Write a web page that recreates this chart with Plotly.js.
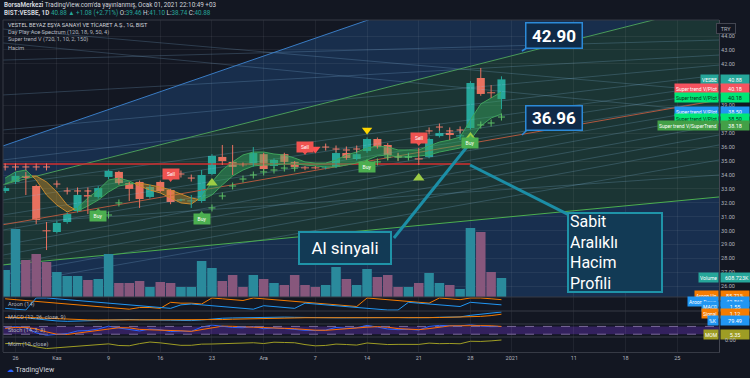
<!DOCTYPE html>
<html><head><meta charset="utf-8">
<script src="https://cdn.plot.ly/plotly-3.0.1.min.js"></script>
<style>html,body{margin:0;padding:0;background:#131722;}#chart{width:750px;height:378px;}</style>
</head><body><div id="chart"></div>
<script>
// ---------- data (trading-day index: 0 = 26 Oct 2020) ----------
const dayIndex = [-1,0,1,2,3,4,5,6,7,8,9,10,11,12,13,14,15,16,17,18,19,20,21,22,23,24,25,26,27,28,29,30,31,32,33,34,35,36,37,38,39,40,41,42,43,44,45,46,47];
const open  = [32.85,33.50,33.93,33.21,30.02,29.90,30.62,31.41,32.55,32.42, 33.86,34.22,33.42,33.50,32.42,33.50,32.92,32.17,32.10,32.13, 34.07,35.30,34.94,34.76,34.72,35.50,34.65,35.50,34.94,34.55, 34.55,34.48,34.58,35.58,35.15,35.73,36.59,36.16,35.32,35.28, 35.20,35.30,36.80,37.02,36.78,37.38,40.98,39.92,39.46];
const high  = [33.20,34.20,34.22,33.30,30.62,30.70,31.30,32.92,32.92,33.20, 34.40,34.30,33.50,33.60,33.30,33.60,33.00,32.30,32.56,34.36, 35.50,36.16,36.16,34.90,36.01,35.60,35.20,35.60,35.00,34.65, 34.65,34.62,35.70,35.70,35.94,36.70,36.70,36.30,35.60,35.60, 35.94,36.70,37.24,37.24,37.24,40.75,41.70,40.47,41.10];
const low   = [32.70,33.35,32.56,30.47,28.60,29.80,30.50,31.30,31.19,32.30, 33.70,33.30,32.13,31.63,32.30,32.75,31.90,32.10,31.63,32.00, 34.00,34.72,34.00,34.60,34.60,34.30,34.50,34.80,34.40,34.35, 34.40,34.40,34.50,35.10,35.05,35.60,35.90,35.08,35.00,35.10, 34.72,35.20,36.70,36.52,36.52,37.30,39.70,39.54,38.74];
const close = [33.06,33.93,33.79,30.76,29.95,30.55,31.19,32.56,32.45,33.06, 34.29,33.42,33.00,32.27,33.14,32.85,32.06,32.22,32.15,34.00, 35.37,35.00,34.58,34.70,35.58,34.43,35.08,34.94,34.58,34.48, 34.48,34.55,35.58,35.22,35.50,36.59,36.01,35.44,35.28,35.32, 35.12,36.59,37.02,36.88,36.83,40.62,39.83,39.88,40.88];
const volumeK = [864,2176,1184,1376,1120,800,672,672,544,576, 1376,448,448,512,320,480,448,320,320,1152, 928,512,704,320,704,576,448,384,704,384, 320,384,960,576,384,896,640,704,320,320, 448,768,448,384,256,2208,2080,800,608.723];
const ribbonFast = [33.78,34.22,34.36,33.64,32.56,31.84,31.34,31.63,32.35,32.92, 33.64,33.78,33.57,33.21,32.92,32.71,32.35,31.99,31.91,32.42, 33.50,34.36,34.94,35.44,35.65,35.65,35.51,35.44,35.22,34.94, 34.86,34.86,35.08,35.44,35.65,35.94,36.09,36.01,35.80,35.80, 35.80,36.09,36.37,36.52,36.73,37.96,39.11,39.54,39.97];
const ribbonSlow = [33.35,33.64,33.93,33.93,33.50,32.78,31.84,31.41,31.77,32.20, 32.78,33.21,33.35,33.42,33.28,33.14,32.92,32.63,32.35,32.20, 32.56,33.28,33.93,34.36,34.65,34.72,34.72,34.79,34.79,34.72, 34.65,34.58,34.58,34.72,34.86,35.08,35.37,35.44,35.29,35.29, 35.37,35.44,35.65,35.80,35.94,36.52,37.53,38.10,38.39];
const aroonUp   = [93,86,79,71,64,57,50,43,36,29, 21,14,7,21,21,14,64,57,57,50, 100,93,86,79,100,93,86,79,71,64, 57,50,43,36,29,100,93,86,79,71, 64,57,100,93,86,100,100,93,86];
const aroonDown = [14,7,0,100,100,93,86,79,71,64, 57,50,43,36,29,21,14,43,50,43, 36,29,21,14,7,36,29,21,14,57, 50,43,36,29,21,14,7,0,0,64, 57,50,43,36,29,64,57,50,43];
const macd   = [0.45,0.48,0.46,0.20,-0.05,-0.20,-0.28,-0.22,-0.18,-0.10, 0.04,0.08,0.08,0.02,0.03,0.01,-0.06,-0.10,-0.13,-0.01, 0.20,0.33,0.39,0.44,0.54,0.52,0.55,0.55,0.51,0.46, 0.41,0.37,0.42,0.42,0.44,0.54,0.56,0.52,0.47,0.43, 0.38,0.45,0.53,0.57,0.59,0.90,1.08,1.32,1.55];
const signal = [0.50,0.50,0.49,0.44,0.34,0.23,0.13,0.06,0.01,-0.01, 0.00,0.02,0.03,0.03,0.03,0.03,0.01,-0.01,-0.04,-0.04, 0.01,0.07,0.14,0.20,0.27,0.32,0.37,0.40,0.42,0.43, 0.43,0.42,0.42,0.42,0.42,0.45,0.47,0.48,0.48,0.47, 0.45,0.45,0.47,0.49,0.51,0.59,0.69,0.85,1.12];
const stochK = [70,78,72,30,12,18,25,45,48,60, 82,68,58,45,60,55,40,44,42,75, 90,82,72,70,80,62,68,64,55,50, 48,52,72,65,70,88,75,60,55,58, 52,80,88,84,82,95,82,78,79.49];
const stochD = [65,72,73,60,38,20,18,29,39,51, 63,70,69,57,54,53,52,46,42,54, 69,82,81,75,74,71,70,65,62,56, 51,50,57,63,69,74,78,74,63,58, 55,63,73,84,85,87,86,85,80];
const momentum = [1.5,2.0,1.2,-2.0,-3.8,-3.0,-2.2,-1.0,-0.8,0.2, 1.23,-0.51,-0.79,1.51,3.19,2.3,0.87,-0.34,-0.3,0.94, 1.08,1.58,1.58,2.43,2.44,1.58,3.02,2.72,2.43,0.48, -0.89,-0.45,1.0,0.52,-0.08,2.16,0.93,0.5,0.7,0.84, 0.64,2.04,1.44,1.66,1.33,4.03,3.82,4.46,5.35];

// super trend dots and signals
const redDotX = [-1,0,1,2,3,4,5,6,7,16,17,30,31,32,33,40,41,42,43];
const redDotY = [34.58,34.58,34.58,34.58,34.58,33.35,32.85,32.85,32.85,34.07,33.78,36.01,35.87,35.80,35.87,37.17,37.45,37.17,37.24];
const greenDotX = [9,10,19,20,21,22,23,24,25,26,27,35,36,37,38,45,46,47];
const greenDotY = [31.12,31.99,31.63,32.49,33.21,33.71,34.00,34.22,34.36,34.50,34.50,34.94,35.29,35.29,35.29,37.60,37.74,38.17];
const upTriX = [19,39,44], upTriY = [33.42,33.78,36.73];
const yellowTriX = [34], yellowTriY = [37.24];
const redTriX = [29], redTriY = [35.87];
const sellX = [15,28,39], sellY = [34.07,36.01,36.66];
const buyX = [8,18,34,44], buyY = [31.05,30.83,34.58,36.30];

// drawings
const edgeX = [-1.21, 68.04];
const channelUpper = [33.31, 46.35];
const channelLower = [27.53, 32.42];
const channelMid = [30.42, 39.39];
const outerLine = [36.09, 53.86];
const redLevelX = [-1.21, 44], redLevel = 34.79;
const fanLeft  = [44.5,43.5,42.27,39.76,37.24,35.08,33.28,32.20,31.12,30.04,28.96,28.24,27.53,26.81,26.09,30.5];
const fanRight = [40.0,38.5,43.71,42.63,41.91,41.19,40.47,39.97,39.40,38.82,38.32,37.60,36.88,36.16,35.08,34.0];
const alLineX = [36.6, 43.96], alLineY = [29.47, 36.30];
const sabitLineX = [43.96, 54.1], sabitLineY = [34.72, 30.91];
const tipHighX = [49.76, 48.98], tipHighY = [43.28, 42.92];
const tipMidX = [49.76, 48.98], tipMidY = [37.45, 36.88];

const tickPos = [0,4,9,14,19,24,29,34,39,44,48,54,59,64];
const tickLab = ['26','Kas','9','16','23','Ara','7','14','21','28','2021','11','18','25'];
const priceTicks = [26,27,28,29,30,31,32,33,34,35,36,37,39,42,43,44];

// ---------- build ----------
const GREEN='#26a69a', RED='#e8715f';
const N = dayIndex.length;
const traces = [];

// volume
traces.push({type:'bar', x:dayIndex, y:volumeK, yaxis:'y2', width:0.92,
  marker:{color:dayIndex.map((_,k)=> close[k]>=open[k] ? '#2a8a9c' : '#87577c'), line:{width:0}}, hoverinfo:'skip'});

// fan lines
fanLeft.forEach((v,k)=>{
  traces.push({type:'scatter', mode:'lines', x:edgeX, y:[v, fanRight[k]], line:{color:'rgba(140,195,235,0.22)', width:1}, hoverinfo:'skip'});
});
// channel lines
traces.push({type:'scatter',mode:'lines',x:edgeX,y:outerLine,line:{color:'#3a7cc4',width:1},hoverinfo:'skip'});
traces.push({type:'scatter',mode:'lines',x:edgeX,y:channelUpper,line:{color:'#4a9c5b',width:1},hoverinfo:'skip'});
traces.push({type:'scatter',mode:'lines',x:edgeX,y:channelLower,line:{color:'#4caf50',width:1},hoverinfo:'skip'});
traces.push({type:'scatter',mode:'lines',x:edgeX,y:channelMid,line:{color:'#b0583f',width:1},hoverinfo:'skip'});
traces.push({type:'scatter',mode:'lines',x:redLevelX,y:[redLevel,redLevel],line:{color:'#d32f2f',width:1.5},hoverinfo:'skip'});

// ribbon
const gP={x:[],y:[]}, oP={x:[],y:[]}, gL={x:[],y:[]}, oL={x:[],y:[]};
function quad(P,L,xa,xb,aa,ab,ba,bb){
  P.x.push(xa,xb,xb,xa,null); P.y.push(aa,ab,bb,ba,null);
  L.x.push(xa,xb,null,xa,xb,null); L.y.push(aa,ab,null,ba,bb,null);
}
for(let k=0;k<N-1;k++){
  const x0=dayIndex[k], x1=dayIndex[k+1];
  const a0=ribbonFast[k], a1=ribbonFast[k+1], b0=ribbonSlow[k], b1=ribbonSlow[k+1];
  const d0=a0-b0, d1=a1-b1;
  if(d0*d1>=0){ const g=(d0+d1)>=0; quad(g?gP:oP,g?gL:oL,x0,x1,a0,a1,b0,b1); }
  else { const t=d0/(d0-d1), xc=x0+t*(x1-x0), yc=a0+t*(a1-a0);
    quad(d0>0?gP:oP,d0>0?gL:oL,x0,xc,a0,yc,b0,yc);
    quad(d1>0?gP:oP,d1>0?gL:oL,xc,x1,yc,a1,yc,b1); }
}
traces.push({type:'scatter',mode:'none',x:gP.x,y:gP.y,fill:'toself',fillcolor:'rgba(55,170,95,0.45)',hoverinfo:'skip'});
traces.push({type:'scatter',mode:'none',x:oP.x,y:oP.y,fill:'toself',fillcolor:'rgba(205,140,40,0.42)',hoverinfo:'skip'});
traces.push({type:'scatter',mode:'lines',x:gL.x,y:gL.y,line:{color:'#3fa35a',width:1},hoverinfo:'skip'});
traces.push({type:'scatter',mode:'lines',x:oL.x,y:oL.y,line:{color:'#c98a2e',width:1},hoverinfo:'skip'});

// candles
function wicks(up){
  const xs=[], ys=[];
  for(let k=0;k<N;k++){ if((close[k]>=open[k])===up){ xs.push(dayIndex[k],dayIndex[k],null); ys.push(low[k],high[k],null);} }
  return {type:'scatter',mode:'lines',x:xs,y:ys,line:{color:up?GREEN:RED,width:1},hoverinfo:'skip'};
}
function bodies(up){
  const xs=[], b=[], h=[];
  for(let k=0;k<N;k++){ if((close[k]>=open[k])===up){ xs.push(dayIndex[k]); b.push(Math.min(open[k],close[k])); h.push(Math.max(Math.abs(close[k]-open[k]),0.07)); } }
  return {type:'bar',x:xs,base:b,y:h,width:0.78,marker:{color:up?GREEN:RED,line:{width:0}},hoverinfo:'skip'};
}
traces.push(wicks(true), wicks(false), bodies(true), bodies(false));

// dots & triangles
traces.push({type:'scatter',mode:'markers',x:redDotX,y:redDotY,marker:{symbol:'cross-thin',size:5,line:{color:'#ef7b6c',width:1}},hoverinfo:'skip'});
traces.push({type:'scatter',mode:'markers',x:greenDotX,y:greenDotY,marker:{symbol:'cross-thin',size:5,line:{color:'#5cbf66',width:1}},hoverinfo:'skip'});
traces.push({type:'scatter',mode:'markers',x:upTriX,y:upTriY,marker:{symbol:'triangle-up',size:10,color:'#9ccc45'},hoverinfo:'skip'});
traces.push({type:'scatter',mode:'markers',x:yellowTriX,y:yellowTriY,marker:{symbol:'triangle-down',size:9,color:'#ffd600'},hoverinfo:'skip'});
traces.push({type:'scatter',mode:'markers',x:redTriX,y:redTriY,marker:{symbol:'triangle-down',size:9,color:'#ff5252'},hoverinfo:'skip'});
traces.push({type:'scatter',mode:'markers',x:sellX,y:sellY.map(v=>v-0.40),marker:{symbol:'triangle-down',size:5,color:'#ef5350'},hoverinfo:'skip'});
traces.push({type:'scatter',mode:'markers',x:buyX,y:buyY.map(v=>v+0.40),marker:{symbol:'triangle-up',size:5,color:'#4caf50'},hoverinfo:'skip'});
// earnings marker
traces.push({type:'scatter',mode:'markers+text',x:[1],y:[25.65],text:['E'],textposition:'middle center',
  textfont:{size:6,color:'#ffffff',family:'Roboto'},marker:{size:9,color:'#1e222d',line:{color:'#50535e',width:1}},hoverinfo:'skip'});
// callout lines
traces.push({type:'scatter',mode:'lines',x:alLineX,y:alLineY,line:{color:'#1c8ea6',width:3},hoverinfo:'skip'});
traces.push({type:'scatter',mode:'lines',x:sabitLineX,y:sabitLineY,line:{color:'#1c8ea6',width:3},hoverinfo:'skip'});
traces.push({type:'scatter',mode:'lines',x:tipHighX,y:tipHighY,line:{color:'#2c8ad8',width:1.5},hoverinfo:'skip'});
traces.push({type:'scatter',mode:'lines',x:tipMidX,y:tipMidY,line:{color:'#2c8ad8',width:1.5},hoverinfo:'skip'});

// sub panes
traces.push({type:'scatter',mode:'lines',x:dayIndex,y:aroonUp,yaxis:'y3',line:{color:'#f57c00',width:1},hoverinfo:'skip'});
traces.push({type:'scatter',mode:'lines',x:dayIndex,y:aroonDown,yaxis:'y3',line:{color:'#2196f3',width:1},hoverinfo:'skip'});
traces.push({type:'scatter',mode:'lines',x:dayIndex,y:macd,yaxis:'y4',line:{color:'#2196f3',width:1},hoverinfo:'skip'});
traces.push({type:'scatter',mode:'lines',x:dayIndex,y:signal,yaxis:'y4',line:{color:'#f57c00',width:1},hoverinfo:'skip'});
traces.push({type:'scatter',mode:'lines',x:dayIndex,y:stochK,yaxis:'y5',line:{color:'#2962ff',width:1},hoverinfo:'skip'});
traces.push({type:'scatter',mode:'lines',x:dayIndex,y:stochD,yaxis:'y5',line:{color:'#ff6d00',width:1},hoverinfo:'skip'});
traces.push({type:'scatter',mode:'lines',x:dayIndex,y:momentum,yaxis:'y6',line:{color:'#9e9d24',width:1},hoverinfo:'skip'});

// ---------- background regions ----------
const P = (xs, ys) => 'M' + xs.map((x,k)=> x+','+ys[k]).join(' L') + ' Z';
const xL=edgeX[0], xR=edgeX[1];
const shapes = [
  {type:'path', xref:'x', yref:'y', layer:'below', line:{width:0}, fillcolor:'#182e4c',
   path:P([xL,xR,xR,xL],[outerLine[0],outerLine[1],channelUpper[1],channelUpper[0]])},
  {type:'path', xref:'x', yref:'y', layer:'below', line:{width:0}, fillcolor:'#1b3534',
   path:P([xL,xR,xR,xL],[channelUpper[0],channelUpper[1],channelLower[1],channelLower[0]])},
  {type:'path', xref:'x', yref:'y', layer:'below', line:{width:0}, fillcolor:'#182f4f',
   path:P([xL,xR,xR,xL],[channelLower[0],channelLower[1],20,20])},
  {type:'rect', xref:'x', yref:'y5', layer:'below', x0:xL, x1:xR, y0:20, y1:80, fillcolor:'#33215e', line:{width:0}},
  {type:'line', xref:'x', yref:'y5', x0:xL, x1:xR, y0:20, y1:20, line:{color:'#7a6a9a',width:1,dash:'dash'}},
  {type:'line', xref:'x', yref:'y5', x0:xL, x1:xR, y0:80, y1:80, line:{color:'#7a6a9a',width:1,dash:'dash'}}
];
[0.16566,0.12349,0.08434,0.04518,1].forEach(v=>shapes.push({type:'line',xref:'paper',yref:'paper',x0:0,x1:1,y0:v,y1:v,line:{color:'#363a45',width:1}}));
shapes.push({type:'line',xref:'paper',yref:'paper',x0:0,x1:0,y0:0,y1:1,line:{color:'#363a45',width:1}});

// ---------- annotations ----------
const F='Roboto, Liberation Sans, sans-serif';
const ann = [];
const txt=(x,y,t,size,color,xa)=>ann.push({xref:'paper',yref:'paper',x:x,y:y,text:t,showarrow:false,xanchor:xa||'left',yanchor:'middle',font:{family:F,size:size,color:color}});
txt(-0.0014,1.045,"<b>BorsaMerkezi</b> TradingView.com'da yayınlanmış, Ocak 01, 2021 22:10:49 +03",6.3,'#d1d4dc');
const g=s=>'<span style="color:#26a69a">'+s+'</span>';
txt(-0.0014,1.021,'<b>BIST:VESBE, 1D</b> '+g('40.88 ▲ +1.08 (+2.71%)')+' O:'+g('39.46')+' H:'+g('41.10')+' L:'+g('38.74')+' C:'+g('40.88'),6.3,'#d1d4dc');
txt(0.0042,0.985,'VESTEL BEYAZ EŞYA SANAYİ VE TİCARET A.Ş., 1G, BIST',5.6,'#d1d4dc');
txt(0.0042,0.962,'Day Play Ace Spectrum (120, 18, 9, 50, 4)',5.6,'#b2b5be');
txt(0.0042,0.940,'Super trend V (720, 1, 10, 2, 150)',5.6,'#b2b5be');
txt(0.0042,0.917,'Hacim',5.6,'#b2b5be');
txt(0.0042,0.143,'Aroon (14)',5.6,'#b2b5be');
txt(0.0042,0.104,'MACD (12, 26, close, 9)',5.6,'#b2b5be');
txt(0.0042,0.0648,'Stoch (14, 3, 3)',5.6,'#b2b5be');
txt(0.0042,0.024,'Mom (10, close)',5.6,'#b2b5be');
txt(0.0028,-0.054,'<span style="color:#2962ff">☁</span> TradingView',7,'#d1d4dc');
ann.push({xref:'paper',yref:'paper',x:1.0237,y:0.9895,text:'TRY',showarrow:false,font:{family:F,size:5.5,color:'#b2b5be'},bgcolor:'#131722',bordercolor:'#434651',borderwidth:1,borderpad:1,width:16,height:7});

function axisLabel(yref,y,name,val,bg,fg,vw){
  ann.push({xref:'paper',yref:yref,x:1,y:y,xanchor:'right',xshift:-0.5,text:name,showarrow:false,font:{family:F,size:5,color:fg},bgcolor:bg,borderpad:1,height:7});
  ann.push({xref:'paper',yref:yref,x:1,y:y,xanchor:'left',xshift:0.5,text:val,showarrow:false,font:{family:F,size:5.5,color:fg},bgcolor:bg,borderpad:1,height:7,width:vw||26});
}
axisLabel('y',40.88,'VESBE','40.88','#26a69a','#ffffff');
axisLabel('y',40.19,'Super trend V/Plot','40.18','#f7525f','#ffffff');
axisLabel('y',39.61,'Super trend V/Plot','40.18','#00e676','#0b2a14');
axisLabel('y',38.60,'Super trend V/Plot','38.50','#2196f3','#ffffff');
axisLabel('y',38.10,'Super trend V/Plot','38.50','#00e676','#0b2a14');
axisLabel('y',37.53,'Super trend V/SuperTrend','38.18','#43a047','#ffffff');
axisLabel('y2',608.723,'Volume','608.723K','#26a69a','#ffffff',30);
axisLabel('paper',0.1536,'Aroon Up','85.71%','#f57c00','#ffffff');
axisLabel('paper',0.1355,'Aroon Down','42.86%','#2196f3','#ffffff');
axisLabel('paper',0.119,'MACD','1.55','#2196f3','#ffffff');
axisLabel('paper',0.0994,'Signal','1.12','#f57c00','#ffffff');
axisLabel('paper',0.0798,'%K','79.49','#2196f3','#ffffff');
axisLabel('paper',0.0361,'MOM','5.35','#9e9d24','#ffffff');
ann.push({xref:'paper',yref:'paper',x:1,y:0.0196,xanchor:'left',xshift:4,text:'0.00',showarrow:false,font:{family:F,size:5.5,color:'#b2b5be'}});

// signal labels
sellX.forEach((x,k)=>ann.push({xref:'x',yref:'y',x:x,y:sellY[k],text:'Sell',showarrow:false,font:{family:F,size:5,color:'#ffffff'},bgcolor:'#ef5350',borderpad:1,width:14,height:8}));
buyX.forEach((x,k)=>ann.push({xref:'x',yref:'y',x:x,y:buyY[k],text:'Buy',showarrow:false,font:{family:F,size:5,color:'#ffffff'},bgcolor:'#4caf50',borderpad:1,width:14,height:8}));

// callout boxes
ann.push({xref:'x',yref:'y',x:52.08,y:44.05,text:'<b>42.90</b>',showarrow:false,font:{family:F,size:17,color:'#ffffff'},bgcolor:'#0f2a47',bordercolor:'#2c8ad8',borderwidth:1.5,width:53,height:22});
ann.push({xref:'x',yref:'y',x:52.08,y:38.10,text:'<b>36.96</b>',showarrow:false,font:{family:F,size:17,color:'#ffffff'},bgcolor:'#0f2a47',bordercolor:'#2c8ad8',borderwidth:1.5,width:53,height:21});
ann.push({xref:'x',yref:'y',x:31.91,y:28.78,text:'Al sinyali',showarrow:false,font:{family:F,size:17,color:'#ffffff'},bgcolor:'#123a55',bordercolor:'#1f93a8',borderwidth:2,width:88,height:28});
ann.push({xref:'x',yref:'y',x:57.98,y:28.46,text:'Sabit<br>Aralıklı<br>Hacim<br>Profili',align:'left',showarrow:false,font:{family:F,size:16,color:'#ffffff'},bgcolor:'#123a55',bordercolor:'#1f93a8',borderwidth:2,width:90,height:75});

const subAxis = (dom, rng) => ({domain:dom, range:rng, anchor:'x', side:'right', showticklabels:false, showgrid:false, zeroline:false, showline:true, linecolor:'#434651', fixedrange:true});

const layout = {
  width:750, height:378, margin:{l:3,r:31,t:20,b:26},
  paper_bgcolor:'#131722', plot_bgcolor:'#131722',
  showlegend:false, hovermode:false, barmode:'overlay',
  font:{family:F, color:'#b2b5be'},
  xaxis:{range:[xL,xR], anchor:'y6', tickvals:tickPos, ticktext:tickLab, showgrid:true, gridcolor:'rgba(255,255,255,0.06)',
         zeroline:false, showline:true, linecolor:'#363a45', ticks:'', tickfont:{size:5.5,color:'#b2b5be'}},
  yaxis:{domain:[0.16566,1], range:[25.223,45.151], anchor:'x', side:'right', tickvals:priceTicks, tickformat:'.2f',
         showgrid:true, gridcolor:'rgba(255,255,255,0.06)', zeroline:false, showline:true, linecolor:'#434651',
         ticks:'', tickfont:{size:5.5,color:'#b2b5be'}},
  yaxis2:{overlaying:'y', range:[0,8864], visible:false, anchor:'x'},
  yaxis3:subAxis([0.12349,0.16566],[-8,108]),
  yaxis4:subAxis([0.08434,0.12349],[-0.8,1.75]),
  yaxis5:subAxis([0.04518,0.08434],[-1.5,98.5]),
  yaxis6:subAxis([0,0.04518],[-7.5,8.6]),
  shapes:shapes, annotations:ann
};
Plotly.newPlot('chart', traces, layout, {staticPlot:true, displayModeBar:false});
</script>
</body></html>
